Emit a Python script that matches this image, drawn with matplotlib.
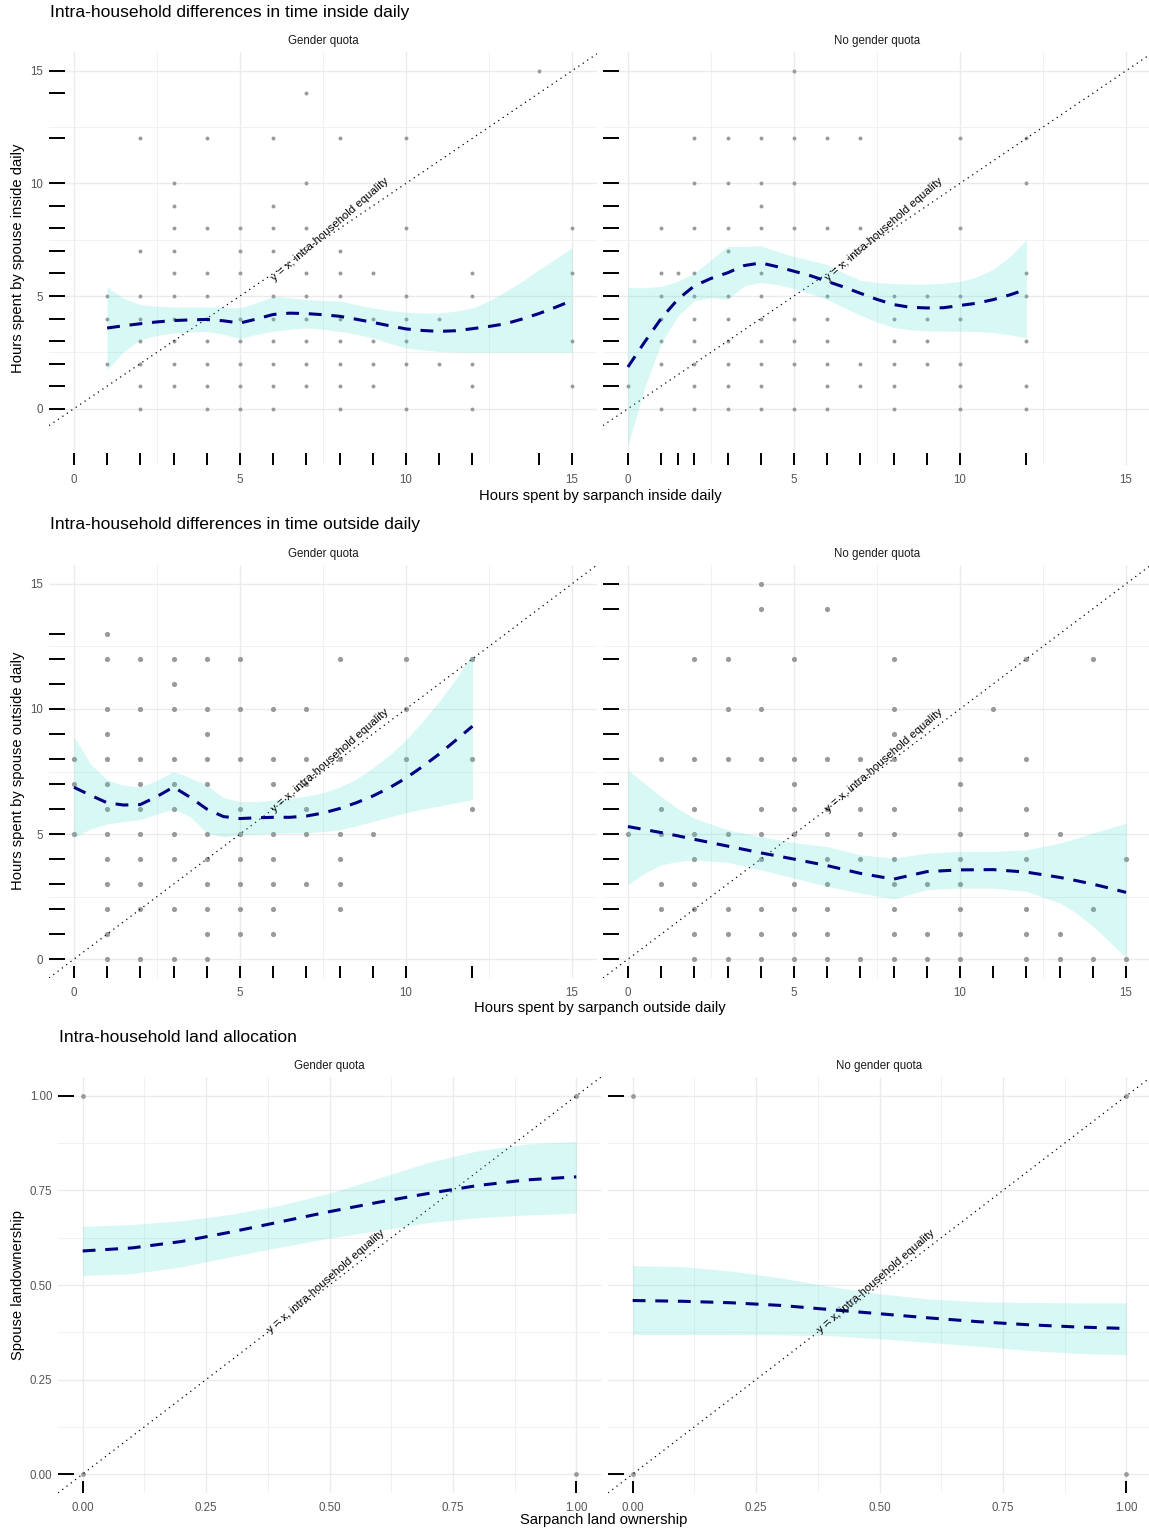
import numpy as np
import matplotlib.pyplot as plt
from matplotlib.ticker import MultipleLocator, FormatStrFormatter

plt.rcParams['font.family'] = ['Liberation Sans', 'DejaVu Sans']

# ---------------- data ----------------
facet_labels = ["Gender quota", "No gender quota"]

# points: spouse value -> list of sarpanch values
inside_gq = {15: [14], 14: [7], 12: [2, 4, 6, 8, 10], 10: [3, 7], 9: [3, 6],
             8: [3, 4, 5, 6, 7, 10, 15], 7: [2, 3, 5, 6, 8],
             6: [3, 4, 5, 7, 8, 9, 12, 15], 5: [1, 2, 3, 4, 6, 7, 8, 10, 12],
             4: [1, 2, 3, 4, 5, 6, 7, 8, 9, 10, 11],
             3: [2, 3, 4, 5, 6, 7, 8, 9, 10, 15],
             2: [1, 2, 3, 4, 5, 6, 7, 8, 9, 10, 11, 12],
             1: [2, 3, 4, 5, 6, 7, 8, 9, 12, 15], 0: [2, 4, 5, 6, 8, 10, 12]}
inside_ngq = {15: [5], 12: [2, 3, 4, 5, 6, 7, 10, 12], 10: [2, 3, 4, 5, 12],
              9: [4], 8: [1, 2, 3, 4, 5, 6, 7, 10], 7: [3],
              6: [1, 1.5, 2, 4, 12], 5: [1, 2, 3, 4, 6, 8, 9, 10, 12],
              4: [1, 2, 3, 4, 5, 6, 8, 9, 10], 3: [1, 2, 3, 4, 5, 6, 8, 9, 12],
              2: [1, 2, 3, 4, 5, 6, 7, 8, 9, 10],
              1: [0, 2, 3, 4, 6, 7, 8, 10, 12], 0: [1, 2, 3, 4, 5, 6, 8, 10, 12]}
outside_gq = {13: [1], 12: [1, 2, 3, 4, 5, 8, 10, 12], 11: [3],
              10: [1, 2, 3, 4, 5, 6, 7, 10], 9: [1, 4],
              8: [0, 1, 2, 3, 4, 5, 6, 7, 8, 10, 12], 7: [0, 1, 2, 3, 4, 6, 7],
              6: [1, 2, 3, 5, 7, 12], 5: [0, 1, 2, 3, 4, 5, 6, 7, 8, 9],
              4: [1, 2, 3, 4, 5, 6, 8], 3: [1, 2, 4, 5, 6, 7, 8],
              2: [1, 2, 3, 4, 5, 6, 8], 1: [1, 4, 5, 6], 0: [1, 2, 3, 4]}
outside_ngq = {15: [4], 14: [4, 6], 12: [2, 3, 5, 8, 12, 14], 10: [3, 4, 8, 11],
               9: [8], 8: [1, 2, 3, 4, 5, 6, 7, 8, 10, 12], 7: [5, 10],
               6: [1, 2, 4, 5, 6, 7, 8, 10, 12],
               5: [0, 1, 2, 3, 4, 5, 6, 7, 8, 10, 12, 13],
               4: [2, 4, 6, 7, 8, 10, 12, 15], 3: [1, 2, 5, 6, 8, 9, 10],
               2: [1, 2, 3, 4, 5, 6, 8, 10, 12, 14],
               1: [2, 3, 4, 5, 6, 8, 9, 10, 12, 13],
               0: [2, 3, 4, 5, 6, 7, 8, 9, 10, 12, 13, 14, 15]}
land_gq = {1: [0, 1], 0: [0, 1]}
land_ngq = {1: [0, 1], 0: [0, 1]}

# extra rug value with no visible point (inside, gender quota)
rug_extra_x_inside_gq = [0]

# smoothed fits (x, fit, lower, upper)
fit_x_inside_gq = [1, 1.5, 2, 2.5, 3, 3.5, 4, 4.5, 5, 5.5, 6, 6.5, 7, 7.5, 8, 8.5,
                   9, 9.5, 10, 10.5, 11, 11.5, 12, 12.5, 13, 13.5, 14, 14.5, 15]
fit_inside_gq = [3.58, 3.68, 3.77, 3.85, 3.91, 3.94, 3.96, 3.9, 3.8, 3.98, 4.18,
                 4.24, 4.22, 4.17, 4.1, 3.97, 3.83, 3.68, 3.54, 3.47, 3.43, 3.46,
                 3.55, 3.65, 3.77, 3.98, 4.22, 4.5, 4.8]
hi_inside_gq = [5.4, 4.9, 4.62, 4.55, 4.51, 4.51, 4.51, 4.5, 4.47, 4.7, 4.98, 4.92,
                4.84, 4.8, 4.78, 4.62, 4.47, 4.36, 4.28, 4.25, 4.25, 4.33, 4.47,
                4.78, 5.21, 5.65, 6.17, 6.65, 7.15]
lo_inside_gq = [1.72, 2.54, 3.06, 3.25, 3.36, 3.4, 3.42, 3.3, 3.11, 3.3, 3.43, 3.52,
                3.58, 3.52, 3.43, 3.3, 3.14, 2.9, 2.69, 2.6, 2.54, 2.51, 2.5, 2.5,
                2.5, 2.5, 2.5, 2.5, 2.5]

fit_x_inside_ngq = [0, 0.5, 1, 1.5, 2, 2.5, 3, 3.5, 4, 4.5, 5, 5.5, 6, 6.5, 7, 7.5,
                    8, 8.5, 9, 9.5, 10, 10.5, 11, 11.5, 12]
fit_inside_ngq = [1.85, 2.95, 4.0, 4.85, 5.45, 5.78, 6.03, 6.35, 6.47, 6.3, 6.1, 5.9,
                  5.65, 5.4, 5.12, 4.85, 4.62, 4.5, 4.47, 4.48, 4.58, 4.68, 4.84,
                  5.05, 5.3]
hi_inside_ngq = [5.38, 5.37, 5.43, 5.65, 6.02, 6.61, 7.2, 7.2, 7.23, 6.98, 6.76, 6.58,
                 6.39, 6.02, 5.7, 5.6, 5.55, 5.53, 5.53, 5.57, 5.65, 5.85, 6.18,
                 6.75, 7.5]
lo_inside_ngq = [-1.65, 0.9, 2.9, 4.1, 4.8, 4.92, 4.85, 5.45, 5.6, 5.5, 5.33, 5.1,
                 4.84, 4.5, 4.15, 3.85, 3.6, 3.5, 3.45, 3.44, 3.44, 3.42, 3.38,
                 3.28, 3.14]

fit_x_outside_gq = [0, 0.5, 1, 1.5, 2, 2.5, 3, 3.5, 4, 4.5, 5, 5.5, 6, 6.5, 7, 7.5,
                    8, 8.5, 9, 9.5, 10, 10.5, 11, 11.5, 12]
fit_outside_gq = [6.87, 6.55, 6.25, 6.16, 6.18, 6.5, 6.88, 6.47, 6.0, 5.7, 5.62,
                  5.65, 5.67, 5.67, 5.72, 5.84, 6.02, 6.25, 6.52, 6.85, 7.24, 7.7,
                  8.2, 8.75, 9.31]
hi_outside_gq = [8.9, 7.8, 7.17, 6.95, 6.88, 7.15, 7.5, 7.25, 6.95, 6.45, 6.3, 6.3,
                 6.36, 6.42, 6.52, 6.65, 6.88, 7.2, 7.64, 8.15, 8.77, 9.5, 10.3,
                 11.2, 12.2]
lo_outside_gq = [4.87, 5.2, 5.4, 5.5, 5.58, 5.8, 6.0, 5.7, 5.05, 4.88, 4.97, 5.0,
                 5.04, 5.05, 5.05, 5.1, 5.17, 5.33, 5.5, 5.68, 5.85, 6.0, 6.12,
                 6.25, 6.38]

fit_x_outside_ngq = [0, 0.5, 1, 1.5, 2, 3, 4, 5, 6, 7, 8, 9, 10, 11, 12, 13, 13.5,
                     14, 14.5, 15]
fit_outside_ngq = [5.3, 5.18, 5.06, 4.93, 4.79, 4.52, 4.25, 4.0, 3.74, 3.43, 3.2,
                   3.5, 3.57, 3.58, 3.48, 3.27, 3.14, 3.0, 2.84, 2.67]
hi_outside_ngq = [7.56, 7.03, 6.5, 6.02, 5.63, 5.17, 4.9, 4.66, 4.5, 4.17, 4.04,
                  4.24, 4.31, 4.31, 4.37, 4.64, 4.83, 5.04, 5.24, 5.44]
lo_outside_ngq = [2.98, 3.44, 3.77, 3.9, 3.97, 3.87, 3.57, 3.24, 2.91, 2.64, 2.41,
                  2.78, 2.84, 2.84, 2.71, 2.25, 1.85, 1.32, 0.7, 0.05]

fit_x_land = [0, 0.1, 0.2, 0.3, 0.4, 0.5, 0.6, 0.7, 0.8, 0.9, 1.0]
fit_land_gq = [0.59, 0.598, 0.615, 0.64, 0.667, 0.694, 0.719, 0.742, 0.763, 0.778,
               0.786]
hi_land_gq = [0.655, 0.66, 0.67, 0.687, 0.711, 0.743, 0.783, 0.824, 0.855, 0.873,
              0.88]
lo_land_gq = [0.525, 0.53, 0.548, 0.575, 0.6, 0.624, 0.644, 0.665, 0.678, 0.685,
              0.69]
fit_land_ngq = [0.459, 0.457, 0.453, 0.446, 0.435, 0.424, 0.413, 0.403, 0.395,
                0.389, 0.385]
hi_land_ngq = [0.551, 0.549, 0.537, 0.519, 0.496, 0.477, 0.463, 0.456, 0.454, 0.453,
               0.453]
lo_land_ngq = [0.369, 0.369, 0.369, 0.368, 0.366, 0.358, 0.348, 0.338, 0.327,
               0.319, 0.316]

titles = ["Intra-household differences in time inside daily",
          "Intra-household differences in time outside daily",
          "Intra-household land allocation"]
xtitles = ["Hours spent by sarpanch inside daily",
           "Hours spent by sarpanch outside daily",
           "Sarpanch land ownership"]
ytitles = ["Hours spent by spouse inside daily",
           "Hours spent by spouse outside daily",
           "Spouse landownership"]

ann_label = "y = x, intra-household equality"

# ---------------- drawing ----------------
W, H = 1149, 1532
fig = plt.figure(figsize=(W / 100, H / 100), dpi=100)


def px_axes(left, right, top, bottom):
    return fig.add_axes([left / W, 1 - bottom / H, (right - left) / W, (bottom - top) / H])


def to_xy(pts):
    xs, ys = [], []
    for yv, xl in pts.items():
        for xv in xl:
            xs.append(xv)
            ys.append(yv)
    return np.array(xs, float), np.array(ys, float)


def panel(ax, pts, fx, fy, flo, fhi, xlim, ylim, major, minor, fmt, psize,
          ann_at, strip, show_y, extra_rug_x=()):
    x, y = to_xy(pts)
    ax.set_xlim(*xlim)
    ax.set_ylim(*ylim)
    for s in ax.spines.values():
        s.set_visible(False)
    ax.xaxis.set_major_locator(MultipleLocator(major))
    ax.yaxis.set_major_locator(MultipleLocator(major))
    ax.xaxis.set_minor_locator(MultipleLocator(minor))
    ax.yaxis.set_minor_locator(MultipleLocator(minor))
    ax.xaxis.set_major_formatter(FormatStrFormatter(fmt))
    ax.yaxis.set_major_formatter(FormatStrFormatter(fmt))
    ax.grid(which='major', color='#EBEBEB', lw=1.0)
    ax.grid(which='minor', color='#EFEFEF', lw=0.6)
    ax.set_axisbelow(True)
    ax.tick_params(which='both', length=0, labelsize=8.3, labelcolor='#555555')
    ax.tick_params(axis='x', pad=6.5)
    ax.tick_params(axis='y', pad=4, labelleft=show_y)

    ax.scatter(x, y, s=psize, color='#9a9a9a', linewidths=0, zorder=2)

    # rugs
    rx = np.unique(np.concatenate([x, np.array(extra_rug_x, float)]))
    ry = np.unique(y)
    tx = ax.get_xaxis_transform()
    ty = ax.get_yaxis_transform()
    for v in rx:
        ax.plot([v, v], [0, 0.03], transform=tx, color='black', lw=1.4,
                solid_capstyle='butt', zorder=3, clip_on=False)
    for v in ry:
        ax.plot([0, 0.03], [v, v], transform=ty, color='black', lw=1.4,
                solid_capstyle='butt', zorder=3, clip_on=False)

    ax.axline((0, 0), slope=1, color='black', lw=0.9, linestyle=(0, (1, 3.3)),
              zorder=3)
    ax.fill_between(fx, flo, fhi, color='turquoise', alpha=0.2, linewidth=0,
                    zorder=4)
    ax.plot(fx, fy, color='#000080', lw=2.2, dashes=(4.2, 3.2),
            dash_capstyle='butt', zorder=5)
    ax.text(ann_at, ann_at, ann_label, rotation=41, rotation_mode='anchor',
            ha='center', va='bottom', fontsize=8.2, color='black', zorder=6)
    ax.annotate(strip, xy=(0.5, 1), xycoords='axes fraction', xytext=(0, 8),
                textcoords='offset points', ha='center', va='center',
                fontsize=8.3, color='#1A1A1A')


rows = [
    dict(top=52, bottom=465, lefts=[(49, 597), (603, 1151)],
         xlim=(-0.75, 15.75), ylim=(-2.5, 15.83), major=5, minor=2.5, fmt='%d',
         psize=8, ann=7.8,
         panels=[(inside_gq, fit_x_inside_gq, fit_inside_gq, lo_inside_gq, hi_inside_gq,
                  rug_extra_x_inside_gq),
                 (inside_ngq, fit_x_inside_ngq, fit_inside_ngq, lo_inside_ngq,
                  hi_inside_ngq, [])],
         title_xy=(50, 13), xt_xy=(600, 496), yt_xy=(18, 258)),
    dict(top=565, bottom=978, lefts=[(49, 597), (603, 1151)],
         xlim=(-0.75, 15.75), ylim=(-0.75, 15.75), major=5, minor=2.5, fmt='%d',
         psize=14, ann=7.8,
         panels=[(outside_gq, fit_x_outside_gq, fit_outside_gq, lo_outside_gq,
                  hi_outside_gq, []),
                 (outside_ngq, fit_x_outside_ngq, fit_outside_ngq, lo_outside_ngq,
                  hi_outside_ngq, [])],
         title_xy=(50, 525), xt_xy=(600, 1008), yt_xy=(18, 771)),
    dict(top=1077, bottom=1493, lefts=[(58, 601), (608, 1151)],
         xlim=(-0.05, 1.05), ylim=(-0.05, 1.05), major=0.25, minor=0.125, fmt='%.2f',
         psize=12, ann=0.5,
         panels=[(land_gq, fit_x_land, fit_land_gq, lo_land_gq, hi_land_gq, []),
                 (land_ngq, fit_x_land, fit_land_ngq, lo_land_ngq, hi_land_ngq, [])],
         title_xy=(59, 1037), xt_xy=(604, 1520), yt_xy=(18, 1285)),
]

for i, r in enumerate(rows):
    for j, (l, rgt) in enumerate(r['lefts']):
        ax = px_axes(l, rgt, r['top'], r['bottom'])
        pts, fx, fy, flo, fhi, extra = r['panels'][j]
        panel(ax, pts, fx, fy, flo, fhi, r['xlim'], r['ylim'], r['major'], r['minor'],
              r['fmt'], r['psize'], r['ann'], facet_labels[j], j == 0, extra)
    tx, ty = r['title_xy']
    fig.text(tx / W, 1 - ty / H, titles[i], ha='left', va='center', fontsize=12.6,
             color='black')
    xx, xy = r['xt_xy']
    fig.text(xx / W, 1 - xy / H, xtitles[i], ha='center', va='center', fontsize=10.6)
    yx, yy = r['yt_xy']
    fig.text(yx / W, 1 - yy / H, ytitles[i], ha='center', va='center', fontsize=10.6,
             rotation=90)

fig.savefig('out.png', dpi=100, facecolor='white')
